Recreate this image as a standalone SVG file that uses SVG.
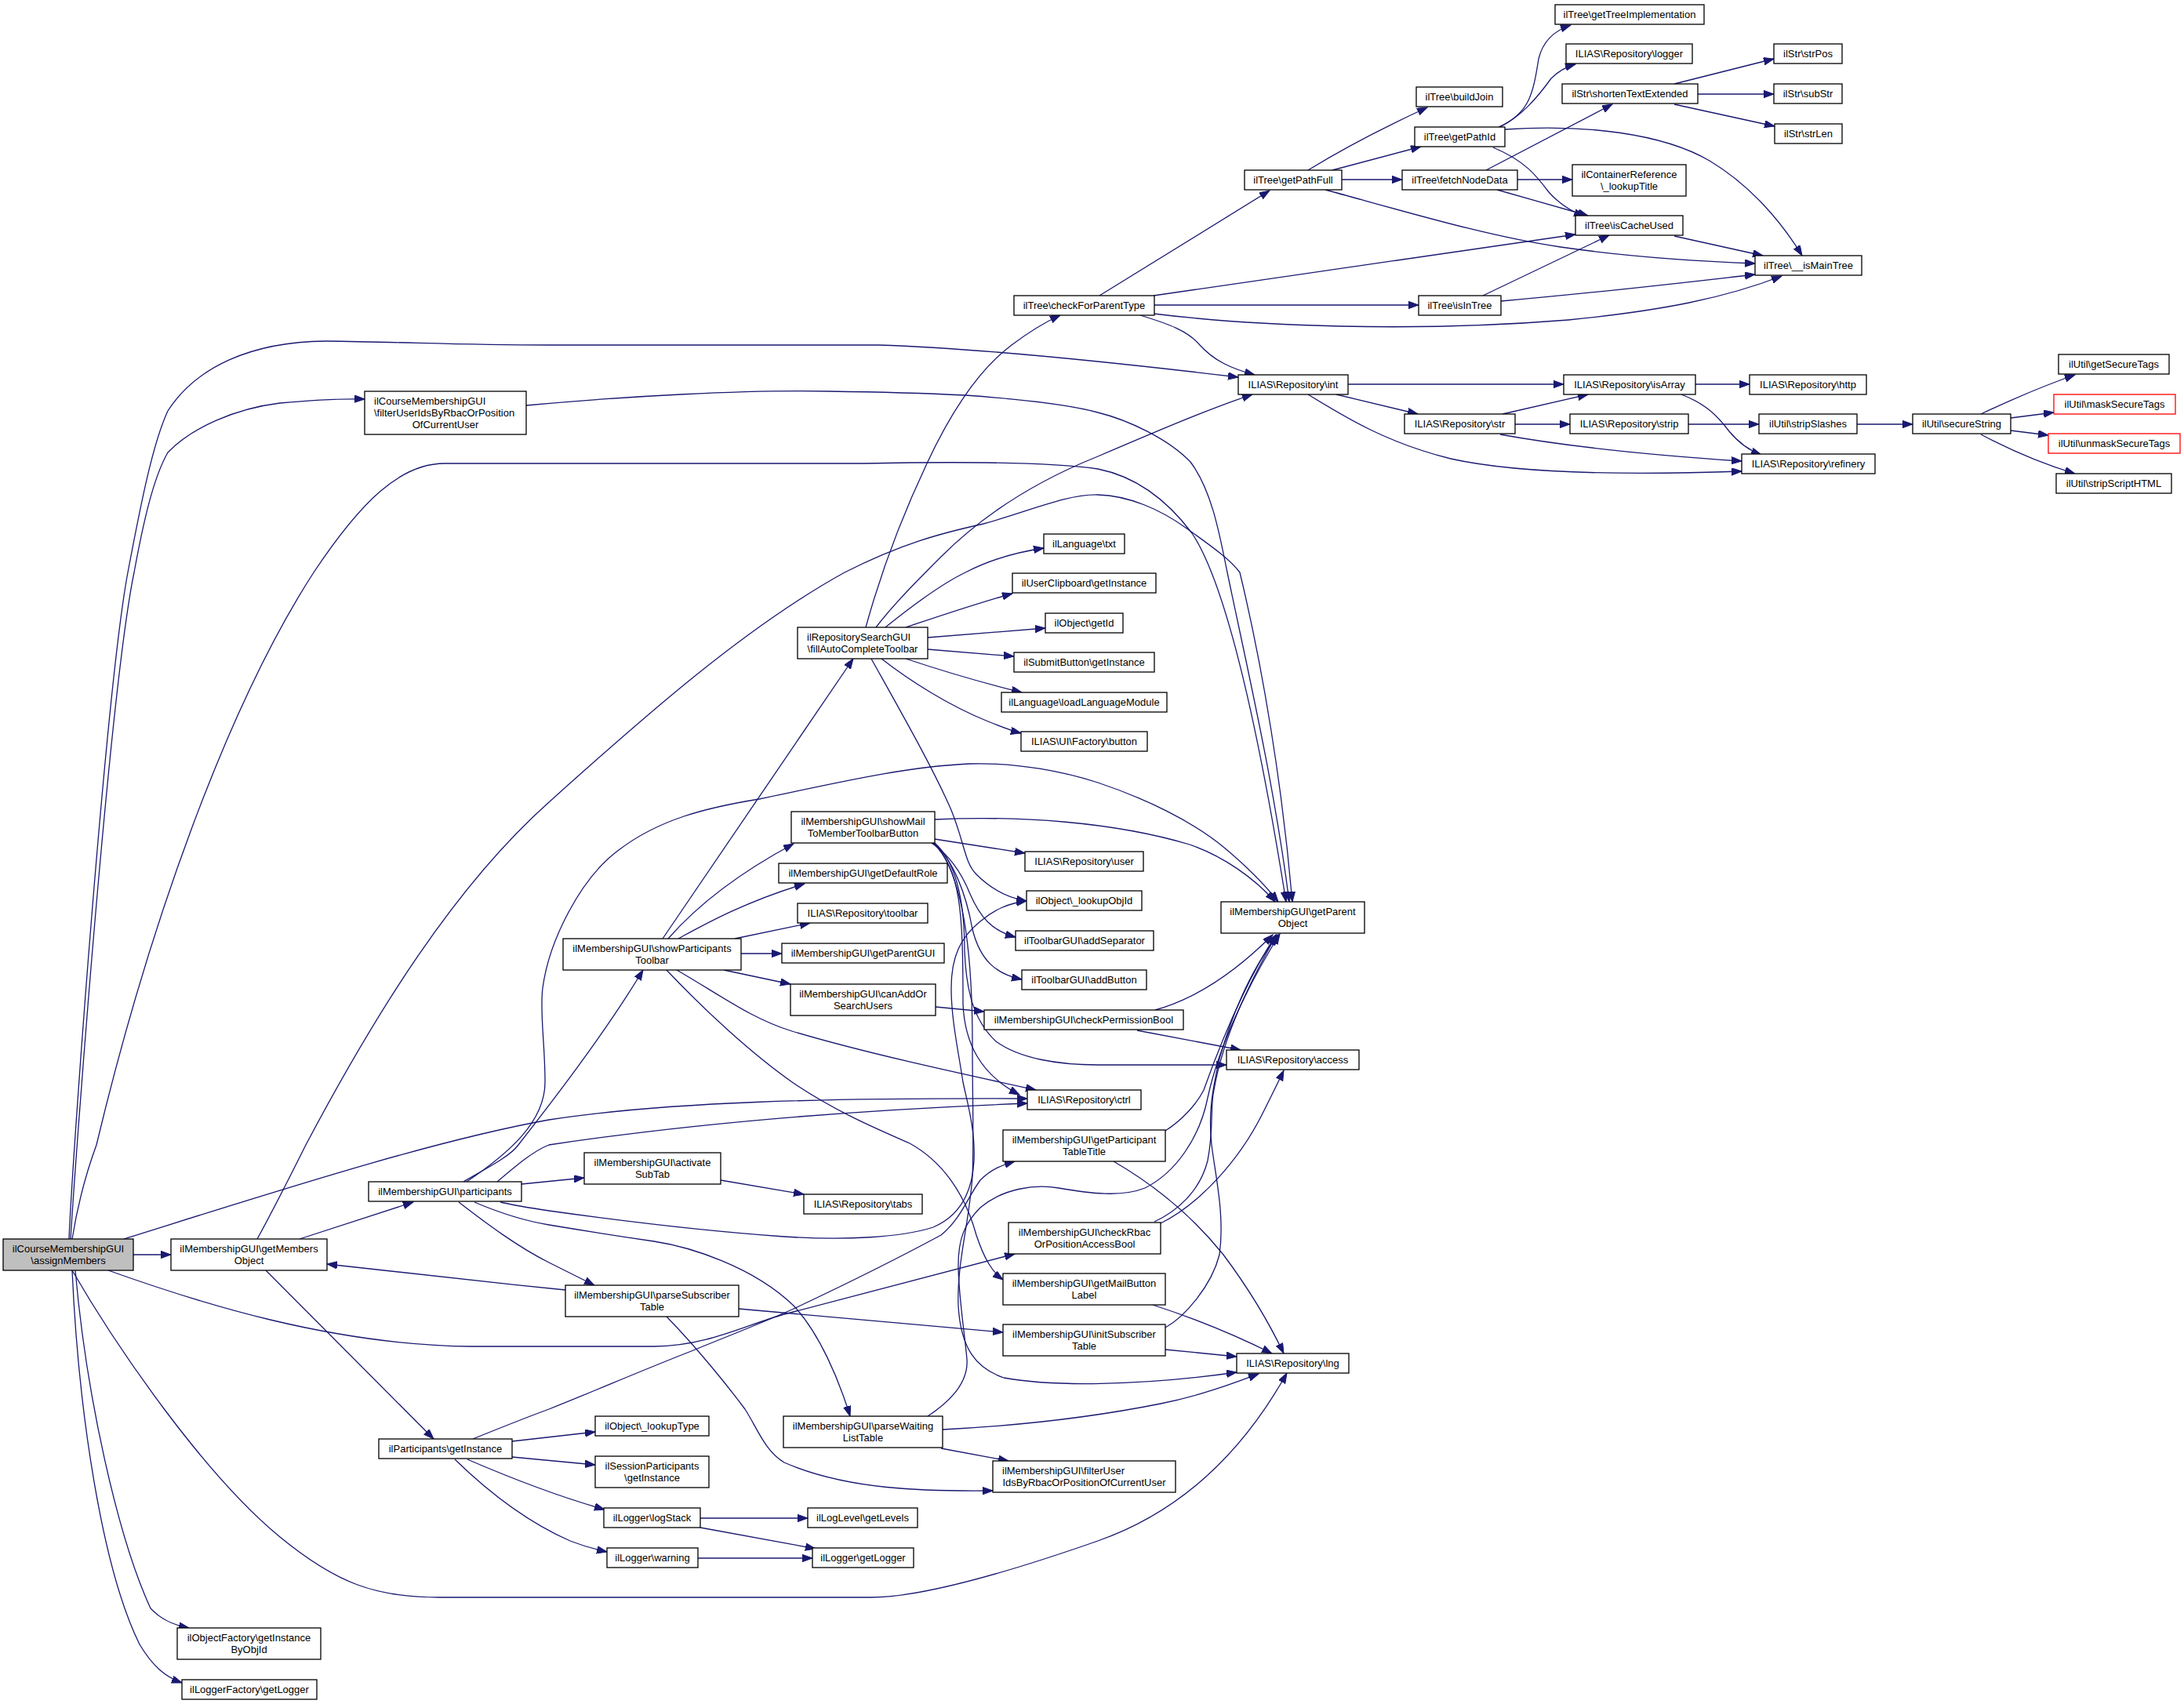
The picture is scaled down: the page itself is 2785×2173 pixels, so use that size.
<svg xmlns="http://www.w3.org/2000/svg" width="2785" height="2173" viewBox="0 0 2785 2173">
<style>
.nd rect{fill:#fff;stroke:#000;stroke-width:1.3}
.nd text{font-family:"Liberation Sans",Arial,Helvetica,sans-serif;font-size:13px;fill:#000;text-anchor:middle}
.nd text.l{text-anchor:start}
.root rect{fill:#bfbfbf}
.red rect{stroke:#ff0000}
#edges path{fill:none;stroke:#191970;stroke-width:1.3;marker-end:url(#arr)}
</style>
<defs>
<marker id="arr" markerUnits="userSpaceOnUse" markerWidth="14" markerHeight="10" refX="13" refY="4.7" orient="auto">
<path d="M0,0 L13,4.7 L0,9.4 z" fill="#191970" stroke="#191970" stroke-width="1"/>
</marker>
</defs>
<rect x="0" y="0" width="2785" height="2173" fill="#fff"/>
<g id="edges">
<path d="M170,1600 L218,1600"/>
<path d="M88,1580 C92,1480 135,880 163,730 C180,640 195,565 214,524 C250,468 320,436 415,435 C520,436 580,440 700,440 L1120,440 C1250,444 1420,462 1579,481"/>
<path d="M90,1580 C96,1480 140,880 171,730 C182,670 195,610 214,577 C245,545 300,521 357,514 C400,510 430,508 465,509"/>
<path d="M92,1580 C100,1530 112,1490 123,1460 C190,1180 290,900 400,730 C460,640 510,591 567,591 L1102,591 C1200,589 1330,588 1400,598 C1450,608 1490,640 1520,680 C1560,740 1600,900 1640,1150"/>
<path d="M158,1580 C350,1520 550,1455 700,1428 C850,1405 1050,1400 1310,1401"/>
<path d="M138,1620 C250,1660 420,1715 600,1717 L834,1717 C900,1717 950,1690 1000,1676 L1294,1599"/>
<path d="M92,1620 C150,1720 260,1880 357,1960 C430,2020 480,2037 560,2037 L1111,2037 C1180,2037 1300,2000 1400,1965 C1500,1930 1580,1860 1641,1751"/>
<path d="M96,1620 C110,1780 150,1960 192,2051 C205,2065 220,2072 241,2076"/>
<path d="M92,1620 C100,1800 130,2000 178,2097 C195,2125 210,2138 232,2146"/>
<path d="M671,517 C800,505 950,497 1057,499 C1130,500 1190,502 1231,504 C1300,509 1360,515 1400,526 C1440,536 1490,560 1518,589 C1545,625 1555,680 1565,730 C1590,850 1625,1000 1644,1150"/>
<path d="M382,1580 L527,1533"/>
<path d="M328,1580 C350,1540 370,1500 390,1460 C480,1290 580,1130 700,1023 C820,915 950,800 1077,730 C1150,693 1200,680 1254,668 C1310,653 1360,630 1400,631 C1440,632 1480,650 1512,673 C1550,700 1570,715 1581,730 C1610,850 1635,1000 1648,1150"/>
<path d="M339,1620 L553,1835"/>
<path d="M591,1507 C620,1490 650,1475 661,1460 C700,1410 770,1320 820,1237"/>
<path d="M595,1507 C650,1470 695,1430 695,1380 C695,1330 688,1290 692,1260 C700,1200 740,1120 789,1084 C840,1045 900,1030 968,1019 C1060,1000 1150,978 1236,974 C1300,972 1360,985 1400,998 C1460,1018 1520,1047 1560,1080 C1590,1105 1612,1127 1630,1150"/>
<path d="M634,1507 C660,1485 680,1468 700,1460 C900,1430 1100,1415 1310,1407"/>
<path d="M665,1510 L745,1502"/>
<path d="M585,1533 C620,1560 660,1590 700,1610 C720,1620 740,1630 758,1639"/>
<path d="M605,1533 C640,1548 670,1557 700,1562 C760,1572 800,1578 834,1583 C880,1590 960,1615 1012,1665 C1045,1700 1070,1760 1084,1806"/>
<path d="M638,1533 C660,1538 680,1541 700,1544 C800,1558 900,1570 1000,1577 C1079,1582 1150,1578 1190,1565 C1225,1550 1240,1520 1242,1480 C1244,1440 1232,1400 1228,1380 C1222,1340 1213,1300 1213,1260 C1213,1220 1225,1195 1250,1175 C1268,1160 1285,1152 1309,1149"/>
<path d="M653,1838 L759,1826"/>
<path d="M653,1858 L759,1868"/>
<path d="M596,1861 C640,1880 700,1905 771,1925"/>
<path d="M580,1861 C620,1900 670,1940 727,1965 C745,1972 760,1976 774,1979"/>
<path d="M603,1835 C640,1820 670,1808 700,1797 C760,1773 820,1747 879,1724 C930,1703 970,1688 1012,1669 C1080,1637 1150,1602 1200,1575 C1225,1555 1235,1525 1250,1505 C1265,1490 1280,1485 1294,1481"/>
<path d="M845,1197 L1088,840"/>
<path d="M852,1197 C880,1165 930,1120 1012,1076"/>
<path d="M865,1197 C900,1178 950,1150 1026,1127"/>
<path d="M937,1197 L1033,1177"/>
<path d="M945,1216 L997,1216"/>
<path d="M923,1237 L1008,1255"/>
<path d="M863,1237 C920,1270 960,1300 1010,1315 C1100,1342 1220,1368 1321,1390"/>
<path d="M850,1237 C900,1290 960,1345 1013,1382 C1070,1420 1120,1440 1160,1458 C1200,1480 1230,1520 1245,1575 C1255,1605 1265,1622 1279,1632"/>
<path d="M919,1505 L1025,1523"/>
<path d="M721,1645 C620,1635 520,1623 417,1612"/>
<path d="M942,1669 L1279,1699"/>
<path d="M850,1679 C890,1720 930,1770 950,1797 C965,1820 975,1850 1000,1865 C1080,1900 1180,1902 1266,1901"/>
<path d="M1183,1806 C1215,1785 1235,1760 1233,1733 C1230,1700 1222,1650 1222,1613 C1222,1580 1230,1560 1250,1540 C1280,1515 1320,1510 1350,1515 C1390,1522 1430,1527 1460,1515 C1500,1495 1530,1450 1540,1400 C1555,1330 1595,1250 1632,1191"/>
<path d="M1202,1823 C1300,1818 1400,1806 1480,1790 C1530,1780 1570,1765 1605,1752"/>
<path d="M1200,1847 L1286,1863"/>
<path d="M893,1936 L1030,1936"/>
<path d="M893,1948 L1040,1975"/>
<path d="M890,1987 L1036,1987"/>
<path d="M1104,800 C1115,760 1140,680 1182,591 C1215,520 1250,470 1290,440 C1310,425 1330,412 1352,402"/>
<path d="M1117,800 C1140,770 1170,740 1200,710 C1260,650 1330,610 1400,582 C1470,552 1540,522 1597,503"/>
<path d="M1129,800 C1160,775 1200,745 1231,730 C1260,715 1290,705 1331,699"/>
<path d="M1155,800 C1200,785 1250,768 1291,757"/>
<path d="M1183,813 L1333,801"/>
<path d="M1183,828 L1293,837"/>
<path d="M1155,840 C1200,855 1250,870 1303,883"/>
<path d="M1124,840 C1160,868 1210,900 1260,920 C1280,928 1290,932 1302,935"/>
<path d="M1111,840 C1150,910 1190,980 1213,1033 C1230,1075 1230,1100 1245,1115 C1265,1135 1285,1145 1309,1149"/>
<path d="M1192,1045 C1300,1040 1420,1048 1517,1077 C1560,1092 1600,1120 1626,1150"/>
<path d="M1192,1070 L1307,1088"/>
<path d="M1188,1075 C1210,1090 1225,1110 1237,1140 C1250,1170 1265,1187 1295,1195"/>
<path d="M1190,1075 C1215,1095 1232,1140 1240,1185 C1250,1225 1270,1242 1303,1249"/>
<path d="M1192,1075 C1220,1100 1230,1150 1230,1213 C1232,1260 1240,1300 1270,1328 C1300,1350 1350,1358 1400,1358 L1564,1358"/>
<path d="M1190,1075 C1225,1110 1228,1160 1228,1280 C1230,1330 1250,1370 1300,1396"/>
<path d="M1191,1075 C1225,1110 1240,1200 1240,1330 C1240,1400 1242,1460 1240,1500 C1236,1560 1220,1610 1222,1665 C1225,1720 1245,1745 1280,1757 C1340,1768 1450,1768 1577,1750"/>
<path d="M1193,1284 L1255,1290"/>
<path d="M1473,1288 C1520,1275 1570,1245 1623,1192"/>
<path d="M1450,1314 L1582,1339"/>
<path d="M1486,1442 C1505,1430 1525,1410 1535,1390 C1560,1320 1590,1250 1627,1192"/>
<path d="M1420,1481 C1470,1510 1520,1550 1560,1600 C1590,1640 1615,1680 1637,1726"/>
<path d="M1472,1558 C1500,1545 1530,1520 1540,1480 C1548,1440 1543,1410 1548,1390 C1560,1320 1595,1250 1628,1192"/>
<path d="M1480,1560 C1530,1535 1580,1480 1610,1420 C1620,1400 1630,1380 1637,1365"/>
<path d="M1470,1664 C1510,1677 1560,1695 1622,1726"/>
<path d="M1486,1693 C1510,1680 1545,1640 1555,1600 C1562,1550 1550,1500 1545,1460 C1541,1420 1545,1395 1555,1350 C1575,1280 1600,1230 1630,1192"/>
<path d="M1486,1721 L1577,1730"/>
<path d="M1402,377 L1619,243"/>
<path d="M1471,377 L2009,299"/>
<path d="M1472,389 L1809,389"/>
<path d="M1471,400 C1600,416 1800,424 2000,408 C2120,396 2200,380 2272,352"/>
<path d="M1454,402 C1490,413 1515,422 1530,440 C1548,460 1570,470 1600,478"/>
<path d="M1668,217 C1720,185 1770,160 1820,137"/>
<path d="M1699,217 L1812,187"/>
<path d="M1711,229 L1788,229"/>
<path d="M1690,242 C1800,272 1900,302 1990,315 C2080,328 2160,333 2238,336"/>
<path d="M1911,162 C1950,145 1955,120 1962,75 C1968,50 1985,38 2003,32"/>
<path d="M1913,162 C1940,148 1960,125 1978,100 C1988,90 1998,85 2009,82"/>
<path d="M1919,165 C2020,158 2120,170 2180,205 C2230,235 2270,280 2298,326"/>
<path d="M1904,188 C1945,205 1960,225 1975,245 C1990,262 2005,270 2020,276"/>
<path d="M1895,217 L2056,133"/>
<path d="M1935,229 L2005,229"/>
<path d="M1909,242 L2025,275"/>
<path d="M2135,107 L2262,75"/>
<path d="M2165,120 L2262,120"/>
<path d="M2135,133 L2263,161"/>
<path d="M2135,301 L2248,326"/>
<path d="M1891,377 L2052,300"/>
<path d="M1914,384 C2050,372 2150,360 2238,350"/>
<path d="M1719,490 L1994,490"/>
<path d="M1704,503 L1808,528"/>
<path d="M1668,503 C1720,535 1770,565 1850,585 C1940,605 2080,606 2221,601"/>
<path d="M1916,528 L2025,503"/>
<path d="M1932,541 L2002,541"/>
<path d="M1913,554 C1990,568 2100,580 2221,588"/>
<path d="M2162,490 L2231,490"/>
<path d="M2144,503 C2175,515 2190,530 2205,550 C2220,568 2235,576 2246,580"/>
<path d="M2153,541 L2243,541"/>
<path d="M2368,541 L2439,541"/>
<path d="M2526,528 C2560,512 2600,494 2646,478"/>
<path d="M2564,533 L2619,526"/>
<path d="M2564,549 L2612,555"/>
<path d="M2526,554 C2560,572 2600,590 2646,604"/>
</g>
<g id="n1" class="nd root"><rect x="4" y="1580" width="166" height="40"/><text x="87" y="1597">ilCourseMembershipGUI</text><text x="87" y="1612">\assignMembers</text></g>
<g id="n2" class="nd"><rect x="465" y="499" width="206" height="55"/><text class="l" x="477" y="516">ilCourseMembershipGUI</text><text class="l" x="477" y="531">\filterUserIdsByRbacOrPosition</text><text x="568" y="546">OfCurrentUser</text></g>
<g id="n3" class="nd"><rect x="218" y="1580" width="199" height="40"/><text x="317.5" y="1597">ilMembershipGUI\getMembers</text><text x="317.5" y="1612">Object</text></g>
<g id="n4" class="nd"><rect x="470" y="1507" width="195" height="25"/><text x="567.5" y="1524">ilMembershipGUI\participants</text></g>
<g id="n5" class="nd"><rect x="483" y="1835" width="170" height="25"/><text x="568" y="1852">ilParticipants\getInstance</text></g>
<g id="n6" class="nd"><rect x="226" y="2076" width="183" height="40"/><text x="317.5" y="2093">ilObjectFactory\getInstance</text><text x="317.5" y="2108">ByObjId</text></g>
<g id="n7" class="nd"><rect x="232" y="2142" width="172" height="25"/><text x="318" y="2159">ilLoggerFactory\getLogger</text></g>
<g id="n8" class="nd"><rect x="718" y="1197" width="227" height="40"/><text x="831.5" y="1214">ilMembershipGUI\showParticipants</text><text x="831.5" y="1229">Toolbar</text></g>
<g id="n9" class="nd"><rect x="745" y="1470" width="174" height="40"/><text x="832" y="1487">ilMembershipGUI\activate</text><text x="832" y="1502">SubTab</text></g>
<g id="n10" class="nd"><rect x="721" y="1639" width="221" height="40"/><text x="831.5" y="1656">ilMembershipGUI\parseSubscriber</text><text x="831.5" y="1671">Table</text></g>
<g id="n11" class="nd"><rect x="999" y="1806" width="203" height="40"/><text x="1100.5" y="1823">ilMembershipGUI\parseWaiting</text><text x="1100.5" y="1838">ListTable</text></g>
<g id="n12" class="nd"><rect x="759" y="1806" width="145" height="25"/><text x="831.5" y="1823">ilObject\_lookupType</text></g>
<g id="n13" class="nd"><rect x="759" y="1857" width="145" height="40"/><text x="831.5" y="1874">ilSessionParticipants</text><text x="831.5" y="1889">\getInstance</text></g>
<g id="n14" class="nd"><rect x="770" y="1923" width="123" height="25"/><text x="831.5" y="1940">ilLogger\logStack</text></g>
<g id="n15" class="nd"><rect x="774" y="1974" width="116" height="25"/><text x="832" y="1991">ilLogger\warning</text></g>
<g id="n16" class="nd"><rect x="1030" y="1923" width="140" height="25"/><text x="1100" y="1940">ilLogLevel\getLevels</text></g>
<g id="n17" class="nd"><rect x="1036" y="1974" width="129" height="25"/><text x="1100.5" y="1991">ilLogger\getLogger</text></g>
<g id="n18" class="nd"><rect x="1017" y="800" width="166" height="40"/><text class="l" x="1029" y="817">ilRepositorySearchGUI</text><text x="1100" y="832">\fillAutoCompleteToolbar</text></g>
<g id="n19" class="nd"><rect x="1009" y="1035" width="183" height="40"/><text x="1100.5" y="1052">ilMembershipGUI\showMail</text><text x="1100.5" y="1067">ToMemberToolbarButton</text></g>
<g id="n20" class="nd"><rect x="993" y="1101" width="215" height="25"/><text x="1100.5" y="1118">ilMembershipGUI\getDefaultRole</text></g>
<g id="n21" class="nd"><rect x="1017" y="1152" width="166" height="25"/><text x="1100" y="1169">ILIAS\Repository\toolbar</text></g>
<g id="n22" class="nd"><rect x="997" y="1203" width="207" height="25"/><text x="1100.5" y="1220">ilMembershipGUI\getParentGUI</text></g>
<g id="n23" class="nd"><rect x="1008" y="1255" width="185" height="40"/><text x="1100.5" y="1272">ilMembershipGUI\canAddOr</text><text x="1100.5" y="1287">SearchUsers</text></g>
<g id="n24" class="nd"><rect x="1331" y="681" width="103" height="25"/><text x="1382.5" y="698">ilLanguage\txt</text></g>
<g id="n25" class="nd"><rect x="1291" y="731" width="183" height="25"/><text x="1382.5" y="748">ilUserClipboard\getInstance</text></g>
<g id="n26" class="nd"><rect x="1333" y="782" width="99" height="25"/><text x="1382.5" y="799">ilObject\getId</text></g>
<g id="n27" class="nd"><rect x="1293" y="832" width="179" height="25"/><text x="1382.5" y="849">ilSubmitButton\getInstance</text></g>
<g id="n28" class="nd"><rect x="1277" y="883" width="211" height="25"/><text x="1382.5" y="900">ilLanguage\loadLanguageModule</text></g>
<g id="n29" class="nd"><rect x="1302" y="933" width="161" height="25"/><text x="1382.5" y="950">ILIAS\UI\Factory\button</text></g>
<g id="n30" class="nd"><rect x="1307" y="1086" width="151" height="25"/><text x="1382.5" y="1103">ILIAS\Repository\user</text></g>
<g id="n31" class="nd"><rect x="1309" y="1136" width="147" height="25"/><text x="1382.5" y="1153">ilObject\_lookupObjId</text></g>
<g id="n32" class="nd"><rect x="1295" y="1187" width="176" height="25"/><text x="1383" y="1204">ilToolbarGUI\addSeparator</text></g>
<g id="n33" class="nd"><rect x="1303" y="1237" width="159" height="25"/><text x="1382.5" y="1254">ilToolbarGUI\addButton</text></g>
<g id="n34" class="nd"><rect x="1255" y="1288" width="254" height="25"/><text x="1382" y="1305">ilMembershipGUI\checkPermissionBool</text></g>
<g id="n35" class="nd"><rect x="1310" y="1390" width="145" height="25"/><text x="1382.5" y="1407">ILIAS\Repository\ctrl</text></g>
<g id="n36" class="nd"><rect x="1279" y="1441" width="207" height="40"/><text x="1382.5" y="1458">ilMembershipGUI\getParticipant</text><text x="1382.5" y="1473">TableTitle</text></g>
<g id="n37" class="nd"><rect x="1025" y="1523" width="151" height="25"/><text x="1100.5" y="1540">ILIAS\Repository\tabs</text></g>
<g id="n38" class="nd"><rect x="1286" y="1559" width="194" height="40"/><text x="1383" y="1576">ilMembershipGUI\checkRbac</text><text x="1383" y="1591">OrPositionAccessBool</text></g>
<g id="n39" class="nd"><rect x="1279" y="1624" width="207" height="40"/><text x="1382.5" y="1641">ilMembershipGUI\getMailButton</text><text x="1382.5" y="1656">Label</text></g>
<g id="n40" class="nd"><rect x="1279" y="1689" width="207" height="40"/><text x="1382.5" y="1706">ilMembershipGUI\initSubscriber</text><text x="1382.5" y="1721">Table</text></g>
<g id="n41" class="nd"><rect x="1266" y="1863" width="233" height="40"/><text class="l" x="1278" y="1880">ilMembershipGUI\filterUser</text><text x="1382.5" y="1895">IdsByRbacOrPositionOfCurrentUser</text></g>
<g id="n42" class="nd"><rect x="1557" y="1150" width="183" height="40"/><text x="1648.5" y="1167">ilMembershipGUI\getParent</text><text x="1648.5" y="1182">Object</text></g>
<g id="n43" class="nd"><rect x="1564" y="1339" width="169" height="25"/><text x="1648.5" y="1356">ILIAS\Repository\access</text></g>
<g id="n44" class="nd"><rect x="1577" y="1726" width="143" height="25"/><text x="1648.5" y="1743">ILIAS\Repository\lng</text></g>
<g id="n45" class="nd"><rect x="1293" y="377" width="179" height="25"/><text x="1382.5" y="394">ilTree\checkForParentType</text></g>
<g id="n46" class="nd"><rect x="1587" y="217" width="124" height="25"/><text x="1649" y="234">ilTree\getPathFull</text></g>
<g id="n47" class="nd"><rect x="1806" y="111" width="110" height="25"/><text x="1861" y="128">ilTree\buildJoin</text></g>
<g id="n48" class="nd"><rect x="1804" y="162" width="115" height="25"/><text x="1861.5" y="179">ilTree\getPathId</text></g>
<g id="n49" class="nd"><rect x="1788" y="217" width="147" height="25"/><text x="1861.5" y="234">ilTree\fetchNodeData</text></g>
<g id="n50" class="nd"><rect x="1809" y="377" width="105" height="25"/><text x="1861.5" y="394">ilTree\isInTree</text></g>
<g id="n51" class="nd"><rect x="1579" y="478" width="140" height="25"/><text x="1649" y="495">ILIAS\Repository\int</text></g>
<g id="n52" class="nd"><rect x="1791" y="528" width="141" height="25"/><text x="1861.5" y="545">ILIAS\Repository\str</text></g>
<g id="n53" class="nd"><rect x="1983" y="6" width="190" height="25"/><text x="2078" y="23">ilTree\getTreeImplementation</text></g>
<g id="n54" class="nd"><rect x="1997" y="56" width="161" height="25"/><text x="2077.5" y="73">ILIAS\Repository\logger</text></g>
<g id="n55" class="nd"><rect x="1992" y="107" width="173" height="25"/><text x="2078.5" y="124">ilStr\shortenTextExtended</text></g>
<g id="n56" class="nd"><rect x="2005" y="210" width="145" height="40"/><text x="2077.5" y="227">ilContainerReference</text><text x="2077.5" y="242">\_lookupTitle</text></g>
<g id="n57" class="nd"><rect x="2009" y="275" width="137" height="25"/><text x="2077.5" y="292">ilTree\isCacheUsed</text></g>
<g id="n58" class="nd"><rect x="2238" y="326" width="136" height="25"/><text x="2306" y="343">ilTree\__isMainTree</text></g>
<g id="n59" class="nd"><rect x="1994" y="478" width="168" height="25"/><text x="2078" y="495">ILIAS\Repository\isArray</text></g>
<g id="n60" class="nd"><rect x="2002" y="528" width="151" height="25"/><text x="2077.5" y="545">ILIAS\Repository\strip</text></g>
<g id="n61" class="nd"><rect x="2221" y="579" width="170" height="25"/><text x="2306" y="596">ILIAS\Repository\refinery</text></g>
<g id="n62" class="nd"><rect x="2231" y="478" width="149" height="25"/><text x="2305.5" y="495">ILIAS\Repository\http</text></g>
<g id="n63" class="nd"><rect x="2243" y="528" width="125" height="25"/><text x="2305.5" y="545">ilUtil\stripSlashes</text></g>
<g id="n64" class="nd"><rect x="2439" y="528" width="125" height="25"/><text x="2501.5" y="545">ilUtil\secureString</text></g>
<g id="n65" class="nd"><rect x="2262" y="56" width="87" height="25"/><text x="2305.5" y="73">ilStr\strPos</text></g>
<g id="n66" class="nd"><rect x="2262" y="107" width="87" height="25"/><text x="2305.5" y="124">ilStr\subStr</text></g>
<g id="n67" class="nd"><rect x="2263" y="158" width="86" height="25"/><text x="2306" y="175">ilStr\strLen</text></g>
<g id="n68" class="nd"><rect x="2625" y="452" width="141" height="25"/><text x="2695.5" y="469">ilUtil\getSecureTags</text></g>
<g id="n69" class="nd red"><rect x="2619" y="503" width="155" height="25"/><text x="2696.5" y="520">ilUtil\maskSecureTags</text></g>
<g id="n70" class="nd red"><rect x="2612" y="553" width="168" height="25"/><text x="2696" y="570">ilUtil\unmaskSecureTags</text></g>
<g id="n71" class="nd"><rect x="2622" y="604" width="147" height="25"/><text x="2695.5" y="621">ilUtil\stripScriptHTML</text></g>
</svg>
